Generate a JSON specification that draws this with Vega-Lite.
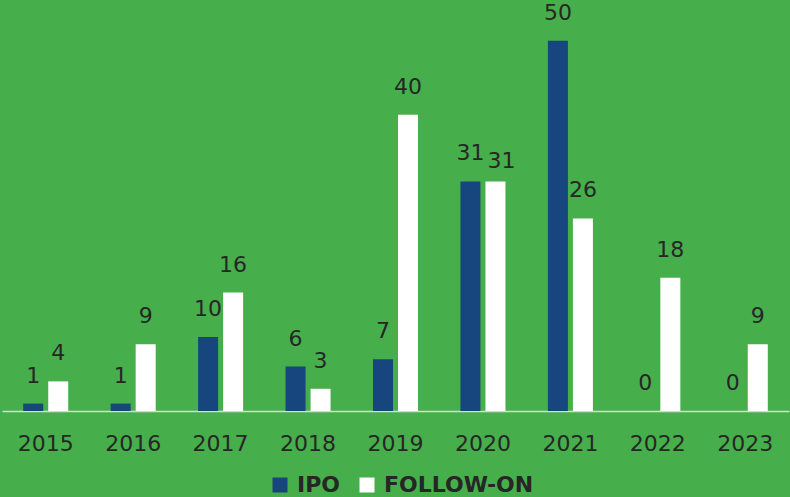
{
  "$schema": "https://vega.github.io/schema/vega-lite/v6.json",
  "width": 787,
  "height": 411,
  "autosize": "none",
  "padding": {"left": 2, "top": 0, "right": 1, "bottom": 86},
  "background": "#46AF4B",
  "config": {
    "view": {"stroke": null},
    "font": "DejaVu Sans"
  },
  "data": {
    "values": [
      {"year": "2015", "series": "IPO", "value": 1},
      {"year": "2015", "series": "FOLLOW-ON", "value": 4},
      {"year": "2016", "series": "IPO", "value": 1},
      {"year": "2016", "series": "FOLLOW-ON", "value": 9},
      {"year": "2017", "series": "IPO", "value": 10},
      {"year": "2017", "series": "FOLLOW-ON", "value": 16},
      {"year": "2018", "series": "IPO", "value": 6},
      {"year": "2018", "series": "FOLLOW-ON", "value": 3},
      {"year": "2019", "series": "IPO", "value": 7},
      {"year": "2019", "series": "FOLLOW-ON", "value": 40},
      {"year": "2020", "series": "IPO", "value": 31},
      {"year": "2020", "series": "FOLLOW-ON", "value": 31},
      {"year": "2021", "series": "IPO", "value": 50},
      {"year": "2021", "series": "FOLLOW-ON", "value": 26},
      {"year": "2022", "series": "IPO", "value": 0},
      {"year": "2022", "series": "FOLLOW-ON", "value": 18},
      {"year": "2023", "series": "IPO", "value": 0},
      {"year": "2023", "series": "FOLLOW-ON", "value": 9}
    ]
  },
  "encoding": {
    "x": {
      "field": "year",
      "type": "nominal",
      "scale": {"paddingInner": 0.485, "paddingOuter": 0.2425},
      "axis": {
        "title": null,
        "labelAngle": 0,
        "ticks": false,
        "domainColor": "#D9D9D9",
        "domainWidth": 1.5,
        "labelFontSize": 22,
        "labelColor": "#262626",
        "labelPadding": 22
      }
    },
    "xOffset": {
      "field": "series",
      "type": "nominal",
      "sort": ["IPO", "FOLLOW-ON"],
      "scale": {"paddingInner": 0.2}
    },
    "y": {
      "field": "value",
      "type": "quantitative",
      "scale": {"domain": [0, 55.5], "nice": false},
      "axis": null
    }
  },
  "layer": [
    {
      "mark": {"type": "bar"},
      "encoding": {
        "color": {
          "field": "series",
          "type": "nominal",
          "sort": ["IPO", "FOLLOW-ON"],
          "scale": {"domain": ["IPO", "FOLLOW-ON"], "range": ["#17457E", "#FFFFFF"]},
          "legend": {
            "title": null,
            "orient": "none",
            "legendX": 267,
            "legendY": 474,
            "direction": "horizontal",
            "symbolType": "square",
            "symbolSize": 225,
            "symbolStrokeWidth": 0,
            "labelFontSize": 22,
            "labelFontWeight": "bold",
            "labelColor": "#262626",
            "columnPadding": 15,
            "labelOffset": 6
          }
        }
      }
    },
    {
      "transform": [{"filter": "!(datum.year === '2020' && datum.series === 'FOLLOW-ON')"}],
      "mark": {"type": "text", "fontSize": 22, "color": "#262626", "baseline": "alphabetic", "dy": -21},
      "encoding": {
        "text": {"field": "value", "type": "quantitative"}
      }
    },
    {
      "transform": [{"filter": "datum.year === '2020' && datum.series === 'FOLLOW-ON'"}],
      "mark": {"type": "text", "fontSize": 22, "color": "#262626", "baseline": "alphabetic", "dy": -13, "dx": 6},
      "encoding": {
        "text": {"field": "value", "type": "quantitative"}
      }
    }
  ]
}
